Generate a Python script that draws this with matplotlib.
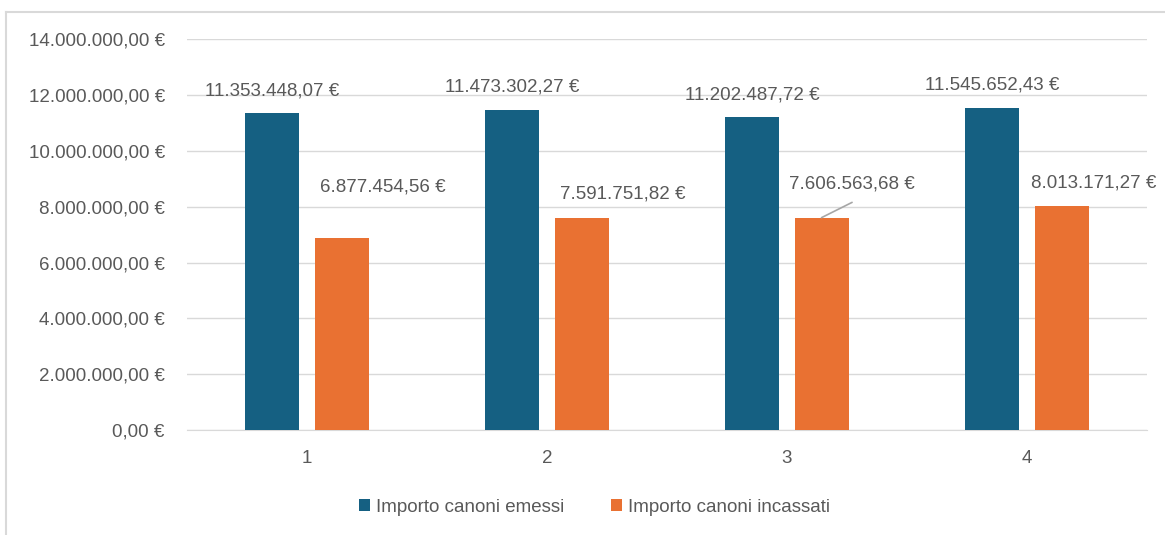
import matplotlib.pyplot as plt
from matplotlib.lines import Line2D

# data
categories = ['1', '2', '3', '4']
emessi = [11353448.07, 11473302.27, 11202487.72, 11545652.43]
incassati = [6877454.56, 7591751.82, 7606563.68, 8013171.27]
series_names = ['Importo canoni emessi', 'Importo canoni incassati']


def euro(v):
    s = f"{v:,.2f}"
    s = s.replace(',', 'X').replace('.', ',').replace('X', '.')
    return s + ' €'


plt.rcParams['font.family'] = ['Liberation Sans', 'DejaVu Sans']
text_col = '#595959'
blue = '#156082'
orange = '#E97132'
fs = 13.5

fig = plt.figure(figsize=(11.65, 5.35), dpi=100)
ax = fig.add_axes([0.1605, 0.196, 0.824, 0.731])

# chart border (only top and left are visible in the crop)
fig.lines.append(Line2D([0.005, 1.0], [0.977, 0.977], transform=fig.transFigure,
                        color='#d9d9d9', linewidth=1.5))
fig.lines.append(Line2D([0.005, 0.005], [0.0, 0.977], transform=fig.transFigure,
                        color='#d9d9d9', linewidth=1.5))

x = list(range(len(categories)))
w = 0.225
off = 0.144
b1 = ax.bar([i - off for i in x], emessi, width=w, color=blue, label=series_names[0], zorder=3)
b2 = ax.bar([i + off for i in x], incassati, width=w, color=orange, label=series_names[1], zorder=3)

ax.set_xlim(-0.5, 3.5)
ax.set_ylim(0, 14000000)
ticks = list(range(0, 14000001, 2000000))
ax.set_yticks(ticks)
ax.set_yticklabels([euro(t) for t in ticks])
ax.set_xticks(x)
ax.set_xticklabels(categories)
ax.tick_params(axis='both', length=0, labelsize=fs, colors=text_col)
ax.tick_params(axis='y', pad=16)
ax.tick_params(axis='x', pad=14)
ax.grid(axis='y', color='#d9d9d9', linewidth=1, zorder=0)
for s in ['top', 'right', 'left']:
    ax.spines[s].set_visible(False)
ax.spines['bottom'].set_color('#d9d9d9')

# labels for blue bars
for i, v in enumerate(emessi):
    ax.annotate(euro(v), (i - off, v), xytext=(0, 16), textcoords='offset points',
                ha='center', va='center', fontsize=fs, color=text_col)

# labels for orange bars (offsets, in points)
lab_off = [(30, 37), (30, 17), (22, 24), (23, 17)]
for i, v in enumerate(incassati):
    dx, dy = lab_off[i]
    ax.annotate(euro(v), (i + off, v), xytext=(dx, dy), textcoords='offset points',
                ha='center', va='center', fontsize=fs, color=text_col)
# leader line for third label
ax.annotate('', (2 + off, incassati[2]), xytext=(22, 11), textcoords='offset points',
            arrowprops=dict(arrowstyle='-', color='#a6a6a6', lw=1.2, shrinkA=0, shrinkB=0))

leg = fig.legend(handles=[b1, b2], labels=series_names, loc='center', bbox_to_anchor=(0.51, 0.052),
                 ncol=2, frameon=False, fontsize=fs, handlelength=0.6, handleheight=0.6,
                 handletextpad=0.3, columnspacing=2.5)
for t in leg.get_texts():
    t.set_color(text_col)

fig.savefig('out.png', dpi=100)
